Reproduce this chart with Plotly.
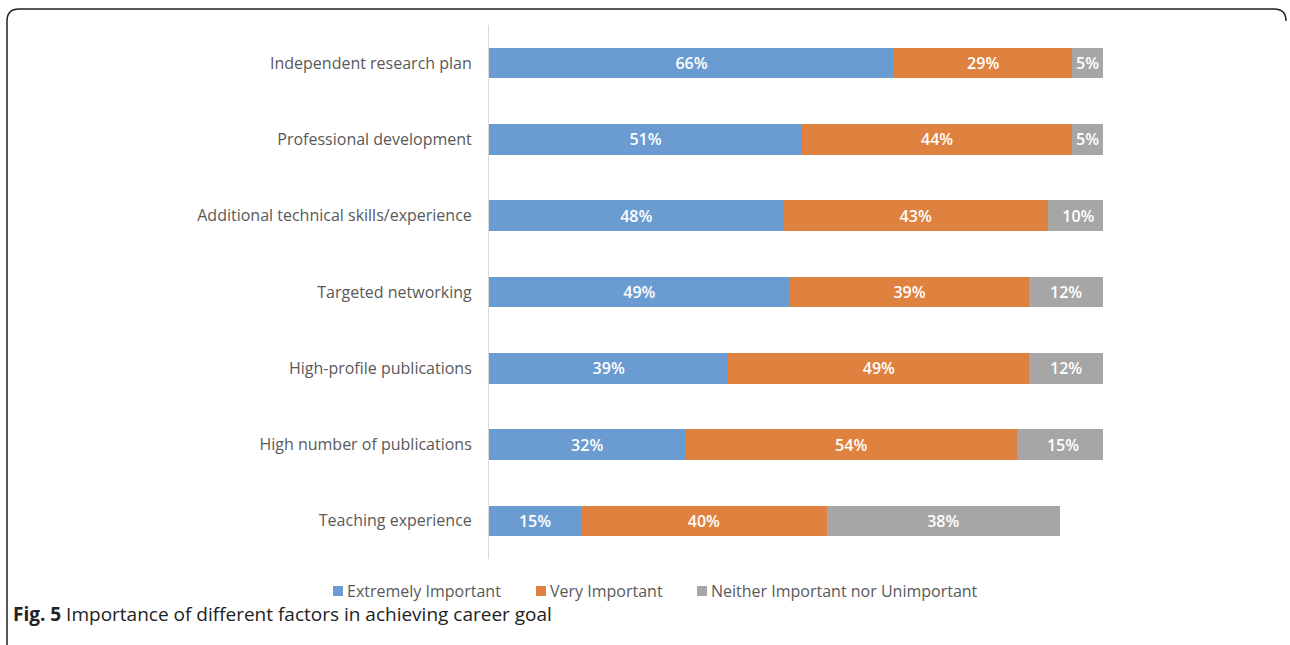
import plotly.graph_objects as go

# Survey factors, listed top to bottom
factors = [
    "Independent research plan",
    "Professional development",
    "Additional technical skills/experience",
    "Targeted networking",
    "High-profile publications",
    "High number of publications",
    "Teaching experience",
]
extremely_important = [66, 51, 48, 49, 39, 32, 15]
very_important = [29, 44, 43, 39, 49, 54, 40]
neither = [5, 5, 10, 12, 12, 15, 38]

series_names = ["Extremely Important", "Very Important", "Neither Important nor Unimportant"]
series_colors = ["#6A9BD1", "#E0823F", "#A6A6A6"]

W, H = 1290, 645
L, R, T, B = 489, 1103, 25, 559  # plot area in pixels


def px(x):
    return (x - L) / (R - L)


def py(y):
    return (B - y) / (B - T)


fig = go.Figure()
for name, vals, col in zip(series_names, [extremely_important, very_important, neither], series_colors):
    fig.add_trace(go.Bar(
        name=name,
        y=factors,
        x=vals,
        orientation="h",
        marker=dict(color=col, line=dict(width=0)),
        texttemplate="%{x}%",
        textposition="inside",
        insidetextanchor="middle",
        constraintext="none",
        textfont=dict(color="white", size=16, family="Open Sans", weight=600),
        hoverinfo="skip",
    ))

# Rounded frame around the figure (top edge, left edge, top-right corner)
r = 12
xl, xr, yt, yb = 7, 1286, 9, 646
frame = (
    f"M {px(xl)},{py(yb)} L {px(xl)},{py(yt + r)} "
    f"Q {px(xl)},{py(yt)} {px(xl + r)},{py(yt)} "
    f"L {px(xr - r)},{py(yt)} Q {px(xr)},{py(yt)} {px(xr)},{py(yt + r)}"
)
shapes = [dict(type="path", xref="paper", yref="paper", path=frame,
               line=dict(color="#222222", width=1.5), layer="above")]

# Horizontal legend row below the bars: square swatch + series name
legend_x = [333, 536, 697]
legend_y = 591
annotations = []
for name, col, lx in zip(series_names, series_colors, legend_x):
    shapes.append(dict(
        type="rect", xref="paper", yref="paper",
        x0=px(lx), x1=px(lx + 10), y0=py(legend_y + 5), y1=py(legend_y - 5),
        fillcolor=col, line=dict(width=0),
    ))
    annotations.append(dict(
        xref="paper", yref="paper", x=px(lx + 12), y=py(legend_y),
        xanchor="left", yanchor="middle", text=name, showarrow=False,
        font=dict(family="Open Sans", size=16, color="#595959"),
    ))

annotations.append(dict(
    xref="paper", yref="paper",
    x=px(11), y=py(614), xanchor="left", yanchor="middle",
    text="<b>Fig. 5</b> Importance of different factors in achieving career goal",
    showarrow=False,
    font=dict(family="Open Sans", size=19, color="#222222"),
))

fig.update_layout(
    width=W,
    height=H,
    barmode="stack",
    bargap=0.6,
    showlegend=False,
    margin=dict(l=L, r=W - R, t=T, b=H - B, autoexpand=False),
    plot_bgcolor="white",
    paper_bgcolor="white",
    font=dict(family="Open Sans", color="#595959", size=16),
    xaxis=dict(range=[0, 100], visible=False, fixedrange=True),
    yaxis=dict(
        autorange="reversed",
        showline=True,
        linecolor="#D9D9D9",
        linewidth=1,
        showgrid=False,
        ticks="",
        ticklabelstandoff=13,
        tickfont=dict(size=16, color="#595959"),
    ),
    shapes=shapes,
    annotations=annotations,
)

fig.write_html("out.html")
